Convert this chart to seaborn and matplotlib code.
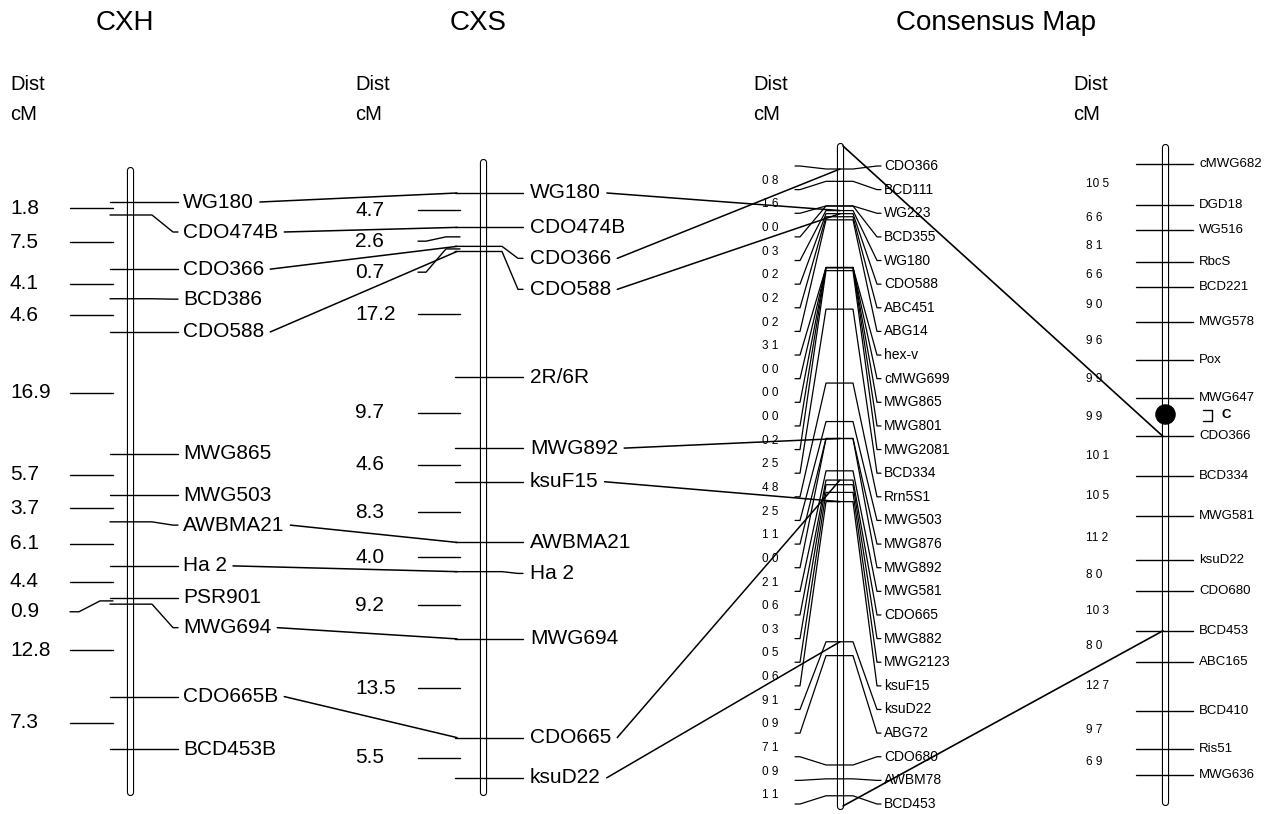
import matplotlib
matplotlib.use("Agg")
import matplotlib.pyplot as plt
import numpy as np
import seaborn as sns

sns.set_theme(style="white")
plt.rcParams["font.family"] = ["Liberation Sans", "DejaVu Sans"]
plt.rcParams["text.color"] = "black"

# ----------------------------------------
# Map data (marker order + interval distances in cM)
# ----------------------------------------

cxh_markers = ["WG180", "CDO474B", "CDO366", "BCD386", "CDO588", "MWG865", "MWG503",
               "AWBMA21", "Ha 2", "PSR901", "MWG694", "CDO665B", "BCD453B"]
cxh_dist = [1.8, 7.5, 4.1, 4.6, 16.9, 5.7, 3.7, 6.1, 4.4, 0.9, 12.8, 7.3]

cxs_markers = ["WG180", "CDO474B", "CDO366", "CDO588", "2R/6R", "MWG892", "ksuF15",
               "AWBMA21", "Ha 2", "MWG694", "CDO665", "ksuD22"]
cxs_dist = [4.7, 2.6, 0.7, 17.2, 9.7, 4.6, 8.3, 4.0, 9.2, 13.5, 5.5]

cons_markers = ["CDO366", "BCD111", "WG223", "BCD355", "WG180", "CDO588", "ABC451",
                "ABG14", "hex-v", "cMWG699", "MWG865", "MWG801", "MWG2081", "BCD334",
                "Rrn5S1", "MWG503", "MWG876", "MWG892", "MWG581", "CDO665", "MWG882",
                "MWG2123", "ksuF15", "ksuD22", "ABG72", "CDO680", "AWBM78", "BCD453"]
cons_dist = [0.8, 1.6, 0.0, 0.3, 0.2, 0.2, 0.2, 3.1, 0.0, 0.0, 0.0, 0.2, 2.5, 4.8,
             2.5, 1.1, 0.0, 2.1, 0.6, 0.3, 0.5, 0.6, 9.1, 0.9, 7.1, 0.9, 1.1]

chr_markers = ["cMWG682", "DGD18", "WG516", "RbcS", "BCD221", "MWG578", "Pox", "MWG647",
               "CDO366", "BCD334", "MWG581", "ksuD22", "CDO680", "BCD453", "ABC165",
               "BCD410", "Ris51", "MWG636"]
chr_dist = [10.5, 6.6, 8.1, 6.6, 9.0, 9.6, 9.9, 9.9, 10.1, 10.5, 11.2, 8.0, 10.3, 8.0,
            12.7, 9.7, 6.9]
centromere_cm = 64.5

# links between maps
cxh_cxs_links = [("WG180", "WG180"), ("CDO474B", "CDO474B"), ("CDO366", "CDO366"),
                 ("CDO588", "CDO588"), ("AWBMA21", "AWBMA21"), ("Ha 2", "Ha 2"),
                 ("MWG694", "MWG694"), ("CDO665B", "CDO665")]
cxs_cons_links = ["WG180", "CDO366", "CDO588", "MWG892", "ksuF15", "CDO665", "ksuD22"]
cons_chr_links = ["CDO366", "BCD453"]

titles = ["CXH", "CXS", "Consensus Map"]

# ----------------------------------------
# Figure
# ----------------------------------------

fig = plt.figure(figsize=(12.79, 8.14), dpi=100)
ax = fig.add_axes([0, 0, 1, 1])
ax.set_xlim(0, 1279)
ax.set_ylim(814, 0)
ax.axis("off")

LW = 1.0


def positions(dists, y0, scale):
    return y0 + scale * np.concatenate([[0], np.cumsum(dists)])


def stack(ys, gap):
    out = []
    for y in ys:
        out.append(y if not out else max(y, out[-1] + gap))
    return np.array(out)


def chromosome(x, top, bottom):
    ax.plot([x, x], [top, bottom], color="black", lw=5.2, solid_capstyle="round", zorder=1)
    ax.plot([x, x], [top, bottom], color="white", lw=3.6, solid_capstyle="round", zorder=2)


def header(x, fs):
    ax.text(x, 84, "Dist", fontsize=fs, va="center", ha="left")
    ax.text(x, 115, "cM", fontsize=fs, va="center", ha="left")


for t, tx in zip(titles, [125, 478, 996]):
    ax.text(tx, 23, t, fontsize=20, ha="center", va="center")

# ---------------- CXH ----------------
hx = 130
cxh_py = positions(cxh_dist, 202, 7.22)
cxh_ly = stack(cxh_py, 30)
chromosome(hx, 170, 792)
header(10, 14.5)
cxh_text = {}
for name, py, ly in zip(cxh_markers, cxh_py, cxh_ly):
    ax.plot([110, 152, 173, 178], [py, py, ly, ly], color="black", lw=LW, zorder=3)
    cxh_text[name] = ax.text(183, ly, name, fontsize=15, va="center", ha="left")
mids = (cxh_py[:-1] + cxh_py[1:]) / 2
dly = stack(mids, 30)
for d, m, ly in zip(cxh_dist, mids, dly):
    ax.plot([70, 79, 100, 113], [ly, ly, m, m], color="black", lw=LW)
    ax.text(10, ly, f"{d:.1f}", fontsize=15, va="center", ha="left")

# ---------------- CXS ----------------
sx = 483
cxs_py = positions(cxs_dist, 193, 7.31)
cxs_ly = stack(cxs_py, 31)
chromosome(sx, 162, 792)
header(355, 14.5)
cxs_text = {}
for name, py, ly in zip(cxs_markers, cxs_py, cxs_ly):
    ax.plot([455, 502, 518, 523], [py, py, ly, ly], color="black", lw=LW, zorder=3)
    cxs_text[name] = ax.text(530, ly, name, fontsize=15, va="center", ha="left")
mids = (cxs_py[:-1] + cxs_py[1:]) / 2
dly = stack(mids, 31)
for d, m, ly in zip(cxs_dist, mids, dly):
    ax.plot([418, 426, 446, 460], [ly, ly, m, m], color="black", lw=LW)
    ax.text(355, ly, f"{d:.1f}", fontsize=15, va="center", ha="left")

# ---------------- Consensus ----------------
cx = 840
cons_py = positions(cons_dist, 169, 15.4)
cons_ly = 166 + 23.63 * np.arange(len(cons_markers))
chromosome(cx, 146, 806)
header(753, 14.5)
for name, py, ly in zip(cons_markers, cons_py, cons_ly):
    ax.plot([795, 800, cx - 14, cx + 13, cx + 37, cx + 41], [ly, ly, py, py, ly, ly],
            color="black", lw=0.9, zorder=3)
    ax.text(cx + 44, ly, name, fontsize=10, va="center", ha="left")
for d, a, b in zip(cons_dist, cons_ly[:-1], cons_ly[1:]):
    ax.text(762, (a + b) / 2 + 3, f"{d:.1f}".replace(".", " "), fontsize=8.5,
            va="center", ha="left")

# ---------------- Chromosome (right) ----------------
rx = 1165
chr_py = positions(chr_dist, 164, 3.88)
chromosome(rx, 147, 802)
header(1073, 14.5)
for name, py in zip(chr_markers, chr_py):
    ax.plot([1136, 1193], [py, py], color="black", lw=LW, zorder=3)
    ax.text(1199, py, name, fontsize=9.5, va="center", ha="left")
for d, a, b in zip(chr_dist, chr_py[:-1], chr_py[1:]):
    ax.text(1086, (a + b) / 2, f"{d:.1f}".replace(".", " "), fontsize=8.5,
            va="center", ha="left")
cy = 164 + 3.88 * centromere_cm
ax.scatter([rx], [cy], s=190, color="black", zorder=5)
ax.plot([1203, 1212, 1212, 1203], [410, 410, 421, 421], color="black", lw=LW)
ax.text(1222, 415, "C", fontsize=9.5, fontweight="bold", va="center", ha="left")

# ---------------- Links ----------------
fig.canvas.draw()
inv = ax.transData.inverted()


def right_end(t):
    bb = t.get_window_extent()
    return inv.transform((bb.x1, bb.y0))[0]


cxs_idx = {n: i for i, n in enumerate(cxs_markers)}
cxh_idx = {n: i for i, n in enumerate(cxh_markers)}
cons_idx = {n: i for i, n in enumerate(cons_markers)}
chr_idx = {n: i for i, n in enumerate(chr_markers)}

for a, b in cxh_cxs_links:
    x0 = right_end(cxh_text[a]) + 6
    ax.plot([x0, 457], [cxh_ly[cxh_idx[a]], cxs_py[cxs_idx[b]]], color="black", lw=1.1)

for n in cxs_cons_links:
    x0 = right_end(cxs_text[n]) + 6
    ax.plot([x0, cx], [cxs_ly[cxs_idx[n]], cons_py[cons_idx[n]]], color="black", lw=1.1)

for n in cons_chr_links:
    py = cons_py[cons_idx[n]]
    y0 = 146 if py < 476 else 806
    ax.plot([cx + 3, rx - 2], [y0, chr_py[chr_idx[n]]], color="black", lw=1.2)

fig.savefig("out.png", dpi=100, facecolor="white")
